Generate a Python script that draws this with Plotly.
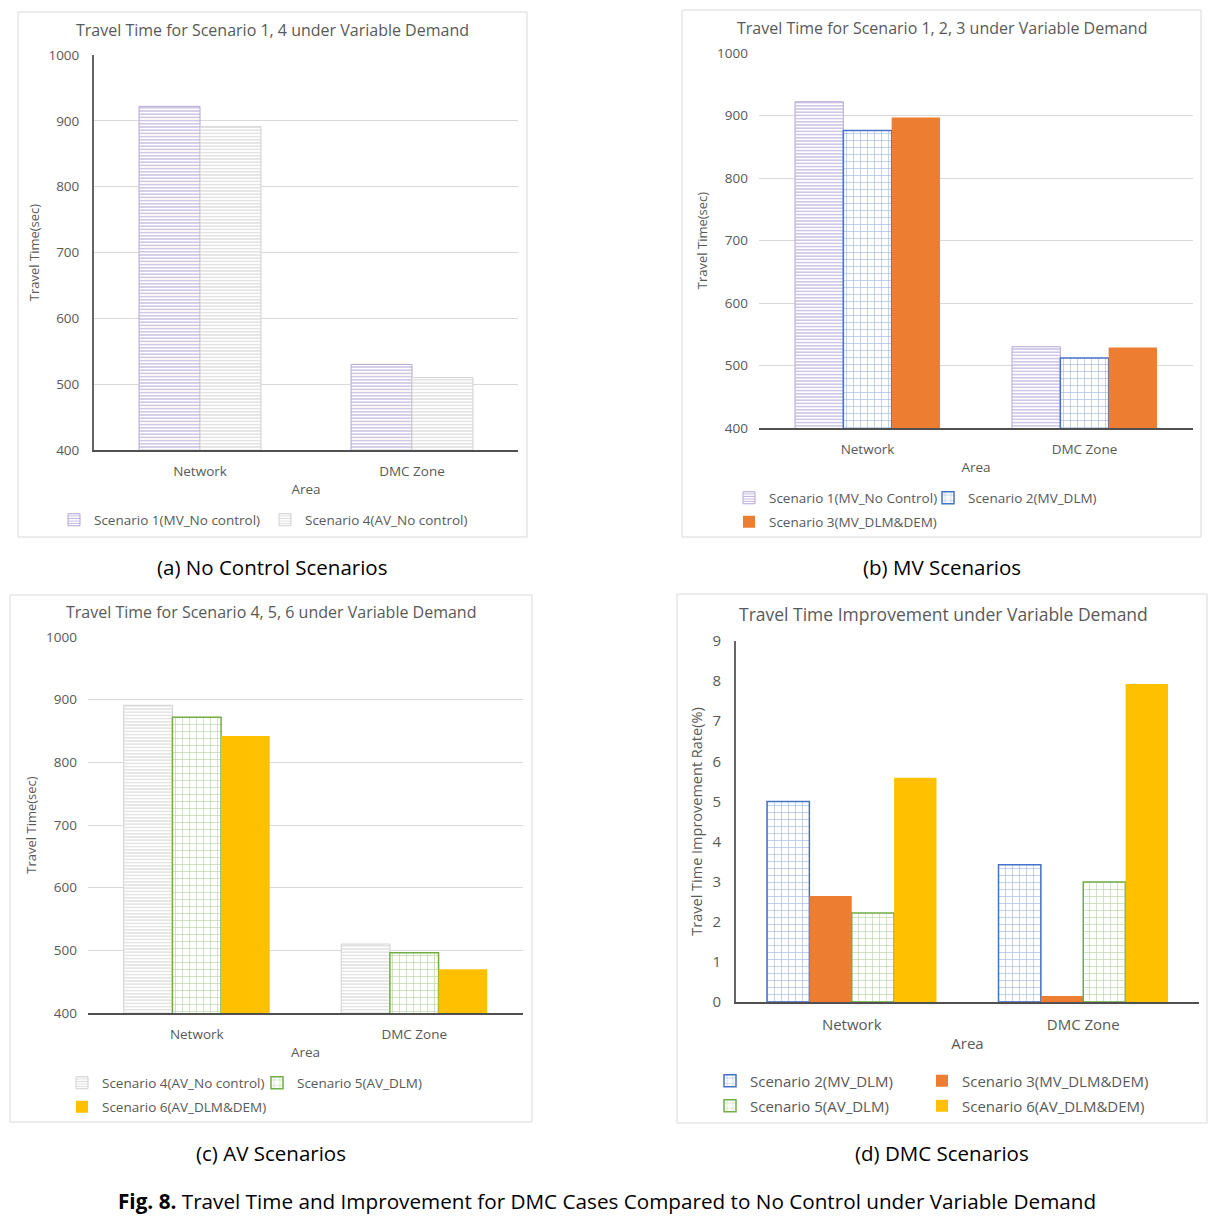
import plotly.graph_objects as go

W, H = 1218, 1219

categories = ["Network", "DMC Zone"]

# Panel (a) No control scenarios
a_s1 = [922, 530]
a_s4 = [891, 510]
# Panel (b) MV scenarios
b_s1 = [922, 530]
b_s2 = [876, 512]
b_s3 = [897, 529]
# Panel (c) AV scenarios
c_s4 = [891, 510]
c_s5 = [872, 496]
c_s6 = [842, 470]
# Panel (d) improvement rate (%)
d_s2 = [5.0, 3.42]
d_s3 = [2.64, 0.15]
d_s5 = [2.22, 2.99]
d_s6 = [5.59, 7.93]

FONT = "Open Sans"
GRAY = "#595959"


def px(x):
    return x / W


def py(y):
    return 1 - y / H


STYLE = {
    "s1": dict(pattern=dict(shape="-", fgcolor="#8a76c0", bgcolor="white", size=3.2, solidity=0.4),
               line=dict(color="#b4a7d6", width=1), color="white"),
    "s4": dict(pattern=dict(shape="-", fgcolor="#bdbdbd", bgcolor="white", size=3.2, solidity=0.4),
               line=dict(color="#d0d0d0", width=1), color="white"),
    "s2": dict(pattern=dict(shape="+", fgcolor="#4472c4", bgcolor="white", size=7, solidity=0.18),
               line=dict(color="#4472c4", width=1.5), color="white"),
    "s5": dict(pattern=dict(shape="+", fgcolor="#70ad47", bgcolor="white", size=7, solidity=0.18),
               line=dict(color="#70ad47", width=1.5), color="white"),
    "s3": dict(color="#ed7d31", line=dict(color="#ed7d31", width=0)),
    "s6": dict(color="#ffc000", line=dict(color="#ffc000", width=0)),
}

fig = go.Figure()

# legend positions: (left edge of text, row centre) in pixels
leg_specs = []


def add_group(series, xa, ya, groupw, fs):
    n = len(series)
    w = groupw / n
    for i, (name, vals, key, tx, ty) in enumerate(series):
        lid = "legend" if not leg_specs else "legend%d" % (len(leg_specs) + 1)
        leg_specs.append((lid, tx, ty, fs))
        fig.add_trace(go.Bar(
            x=categories, y=vals, name=name,
            xaxis=xa, yaxis=ya,
            width=w, offset=-groupw / 2 + i * w,
            marker=STYLE[key], legend=lid, showlegend=True,
        ))


add_group([("Scenario 1(MV_No control)", a_s1, "s1", 94, 520),
           ("Scenario 4(AV_No control)", a_s4, "s4", 305, 520)], "x", "y", 0.575, 13.5)
add_group([("Scenario 1(MV_No Control)", b_s1, "s1", 769, 498),
           ("Scenario 2(MV_DLM)", b_s2, "s2", 968, 498),
           ("Scenario 3(MV_DLM&DEM)", b_s3, "s3", 769, 522)], "x2", "y2", 0.668, 13.5)
add_group([("Scenario 4(AV_No control)", c_s4, "s4", 102, 1083),
           ("Scenario 5(AV_DLM)", c_s5, "s5", 297, 1083),
           ("Scenario 6(AV_DLM&DEM)", c_s6, "s6", 102, 1107)], "x3", "y3", 0.671, 13.5)
add_group([("Scenario 2(MV_DLM)", d_s2, "s2", 750, 1081),
           ("Scenario 3(MV_DLM&DEM)", d_s3, "s3", 962, 1081),
           ("Scenario 5(AV_DLM)", d_s5, "s5", 750, 1106),
           ("Scenario 6(AV_DLM&DEM)", d_s6, "s6", 962, 1106)], "x4", "y4", 0.732, 15)

panels = {
    # key: (xl, xr, ytop, ybot, yrange, dtick, grid, yline, fontsize)
    "1": (94, 518, 55, 450, [400, 1000], 100, True, True, 13.5),
    "2": (759, 1193, 53, 428, [400, 1000], 100, True, False, 13.5),
    "3": (88, 523, 637, 1013, [400, 1000], 100, True, False, 13.5),
    "4": (736, 1199, 641, 1002, [0, 9], 1, False, True, 15),
}
ytitles = {"1": "Travel Time(sec)", "2": "Travel Time(sec)", "3": "Travel Time(sec)",
           "4": "Travel Time Improvement Rate(%)"}

layout = dict(
    width=W, height=H, margin=dict(l=0, r=0, t=0, b=0, pad=0, autoexpand=False),
    paper_bgcolor="white", plot_bgcolor="white",
    barmode="group",
    font=dict(family=FONT, color=GRAY, size=13),
)
for k, (xl, xr, yt, yb, yr, dt, grid, yline, fs) in panels.items():
    suf = "" if k == "1" else k
    layout["xaxis" + suf] = dict(
        domain=[px(xl), px(xr)], anchor="y" + suf, type="category", range=[-0.5, 1.5],
        showline=True, linecolor="#505050", linewidth=1.5, ticks="",
        ticklabelstandoff=8, tickfont=dict(size=fs, color=GRAY, family=FONT),
        title=dict(text="Area", font=dict(size=fs, color=GRAY, family=FONT), standoff=6),
        showgrid=False, zeroline=False, fixedrange=True,
    )
    layout["yaxis" + suf] = dict(
        domain=[py(yb), py(yt)], anchor="x" + suf, range=yr, dtick=dt, tick0=yr[0],
        showgrid=grid, gridcolor="#d9d9d9", gridwidth=1,
        showline=yline, linecolor="#666666", linewidth=2, ticks="",
        ticklabelstandoff=10, tickfont=dict(size=fs, color=GRAY, family=FONT),
        title=dict(text=ytitles[k], font=dict(size=fs - 0.5, color=GRAY, family=FONT), standoff=6),
        zeroline=False, fixedrange=True,
    )

for lid, tx, ty, fs in leg_specs:
    layout[lid] = dict(orientation="h", x=px(tx - 40), y=py(ty), xanchor="left", yanchor="middle",
                       font=dict(family=FONT, size=fs, color=GRAY),
                       bgcolor="rgba(0,0,0,0)", itemclick=False, itemdoubleclick=False)

boxes = [(18, 12, 527, 537), (682, 10, 1201, 537), (10, 595, 532, 1122), (677, 594, 1207, 1123)]
layout["shapes"] = [dict(type="rect", xref="paper", yref="paper",
                         x0=px(a), x1=px(c), y0=py(d), y1=py(b),
                         line=dict(color="#d9d9d9", width=1), layer="below")
                    for a, b, c, d in boxes]

ann = []
titles = [("Travel Time for Scenario 1, 4 under Variable Demand", 272, 30, 16),
          ("Travel Time for Scenario 1, 2, 3 under Variable Demand", 942, 28, 16),
          ("Travel Time for Scenario 4, 5, 6 under Variable Demand", 271, 612, 16),
          ("Travel Time Improvement under Variable Demand", 943, 614, 17.5)]
for t, x, y, s in titles:
    ann.append(dict(text=t, x=px(x), y=py(y), xref="paper", yref="paper", showarrow=False,
                    xanchor="center", yanchor="middle", font=dict(family=FONT, size=s, color=GRAY)))
caps = [("(a) No Control Scenarios", 272, 567), ("(b) MV Scenarios", 942, 567),
        ("(c) AV Scenarios", 271, 1153), ("(d) DMC Scenarios", 942, 1153)]
for t, x, y in caps:
    ann.append(dict(text=t, x=px(x), y=py(y), xref="paper", yref="paper", showarrow=False,
                    xanchor="center", yanchor="middle", font=dict(family=FONT, size=20.5, color="black")))
ann.append(dict(text="<b>Fig. 8.</b> Travel Time and Improvement for DMC Cases Compared to No Control under Variable Demand",
                x=px(607), y=py(1201), xref="paper", yref="paper", showarrow=False,
                xanchor="center", yanchor="middle", font=dict(family=FONT, size=20.7, color="black")))
layout["annotations"] = ann

fig.update_layout(**layout)
fig.write_html("out.html", config={"displayModeBar": False},
               post_script="document.body.style.margin='0';")
